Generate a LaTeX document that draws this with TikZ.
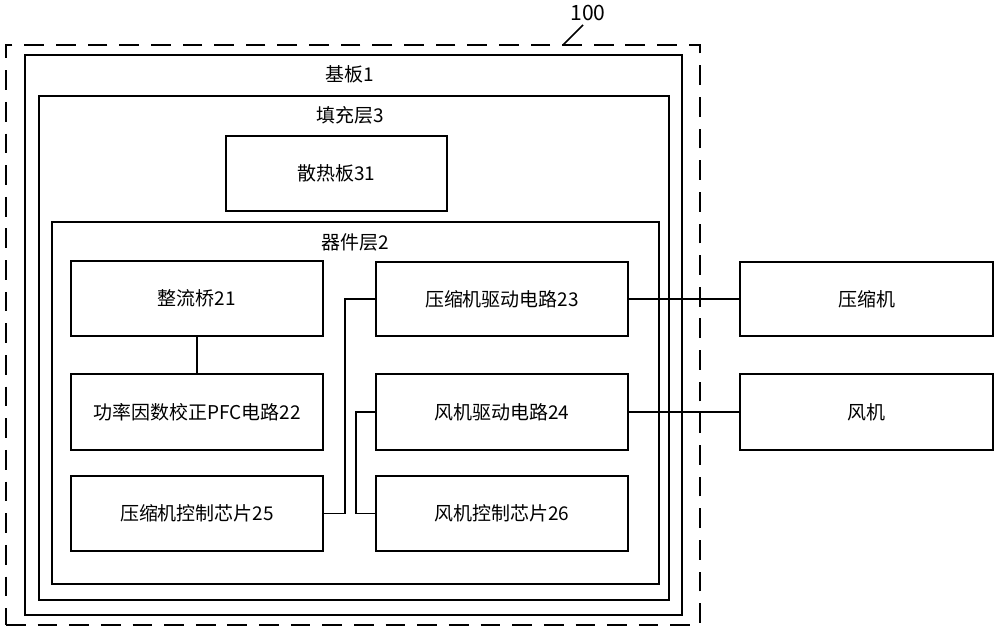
\documentclass[tikz,border=0pt]{standalone}
\usepackage{fontspec}
\setmainfont{Noto Sans CJK SC}
\usetikzlibrary{fit}
\begin{document}
\begin{tikzpicture}[x=0.025cm,y=-0.025cm,
  box/.style={draw=black,line width=1.1pt,inner sep=0pt},
  dbox/.style={draw=black,line width=1.1pt,inner sep=0pt,dash pattern=on 14pt off 8.5pt},
  lab/.style={inner sep=0pt,font=\fontsize{13.5}{16}\selectfont},
  conn/.style={draw=black,line width=1.1pt}]
\useasboundingbox[fill=white] (0,0) rectangle (1000,632);
% containers
\node[dbox,fit={(6,45) (700,625)}] (outer) {};
\node[box,fit={(25,55) (682,615)}] (sub) {};
\node[box,fit={(39,96) (669,600)}] (fill) {};
\node[box,fit={(52,222) (659,584)}] (dev) {};
\node[lab] (subl) at (350,74) {基板1};
\node[lab] (filll) at (350,115) {填充层3};
\node[lab] (devl) at (355,242) {器件层2};
% boxes
\node[box,fit={(226,136) (447,211)},label={[lab]center:散热板31}] (hs) {};
\node[box,fit={(71,261) (323,336)},label={[lab]center:整流桥21}] (zl) {};
\node[box,fit={(71,374) (323,450)},label={[lab]center:功率因数校正PFC电路22}] (pfc) {};
\node[box,fit={(71,476) (323,551)},label={[lab]center:压缩机控制芯片25}] (c25) {};
\node[box,fit={(376,262) (628,336)},label={[lab]center:压缩机驱动电路23}] (d23) {};
\node[box,fit={(376,374) (628,450)},label={[lab]center:风机驱动电路24}] (d24) {};
\node[box,fit={(376,476) (628,551)},label={[lab]center:风机控制芯片26}] (c26) {};
\node[box,fit={(740,262) (993,336)},label={[lab]center:压缩机}] (comp) {};
\node[box,fit={(740,374) (993,450)},label={[lab]center:风机}] (fan) {};
% connectors
\draw[conn] (zl.south) -- (pfc.north);
\draw[conn] (c25.east) -- ++(21,0) |- (d23.west);
\draw[conn] (c26.west) -- ++(-19,0) |- (d24.west);
\draw[conn] (d23.east) -- (comp.west);
\draw[conn] (d24.east) -- (fan.west);
% reference label
\node[lab,font=\fontsize{15}{18}\selectfont] (ref) at (588,13) {100};
\coordinate (refa) at (563,45);
\coordinate (refb) at (583,25);
\draw[conn] (refa) -- (refb);
\end{tikzpicture}
\end{document}
